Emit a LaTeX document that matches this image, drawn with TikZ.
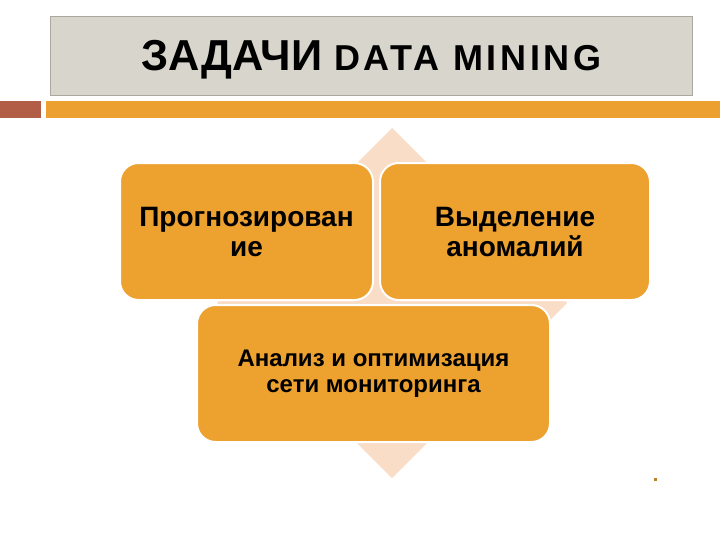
\documentclass[tikz,border=0pt]{standalone}
\usepackage{fontspec}
\setmainfont{Liberation Sans}
\definecolor{boxorange}{RGB}{237,161,47}
\definecolor{diampeach}{RGB}{249,221,198}
\definecolor{titlegray}{RGB}{216,213,204}
\definecolor{barbrown}{RGB}{178,94,70}
\definecolor{barorange}{RGB}{236,160,48}

\tikzset{every picture/.style={line width=0.75pt}}
\tikzset{
  taskbox/.style={draw=white, line width=1.5pt, fill=boxorange, rounded corners=14pt,
    align=center, inner sep=0pt, font=\bfseries\fontsize{21}{22.5}\selectfont},
  titletext/.style={inner sep=0pt, anchor=base, font=\bfseries}
}

\begin{document}
\begin{tikzpicture}[x=0.75pt,y=0.75pt,yscale=-1,xscale=1]
\useasboundingbox (0,0) rectangle (720,540);

%Title box
\draw [draw={rgb, 255:red, 170; green, 168; blue, 160 }, fill=titlegray, line width=0.6pt] (50,16) rectangle (692,95) ;
%Bars
\fill [barbrown] (0,101) rectangle (41,118) ;
\fill [barorange] (46,101) rectangle (720,118) ;

%Diamond
\fill [diampeach] (392,128) -- (567,303) -- (392,478) -- (217,303) -- cycle ;

%Boxes
\node [taskbox, minimum width=189.75pt, minimum height=102.75pt] (forecast) at (246.5,231.5) {Прогнозирован\\ие};
\node [taskbox, minimum width=202.5pt, minimum height=102.75pt] (anomaly) at (515,231.5) {Выделение\\аномалий};
\node [taskbox, minimum width=264.75pt, minimum height=102.75pt, font=\bfseries\fontsize{18}{19.5}\selectfont] (network) at (373.5,373.5) {Анализ и оптимизация\\сети мониторинга};

%Small dot
\fill [barorange!80!black] (654,478) rectangle (657,481) ;

% Title
\node [titletext] (title) at (371.5,70) {\fontsize{32.5}{36}\selectfont ЗАДАЧИ \fontsize{27}{32}\selectfont\addfontfeatures{LetterSpace=10}DATA MINING};

\end{tikzpicture}
\end{document}
